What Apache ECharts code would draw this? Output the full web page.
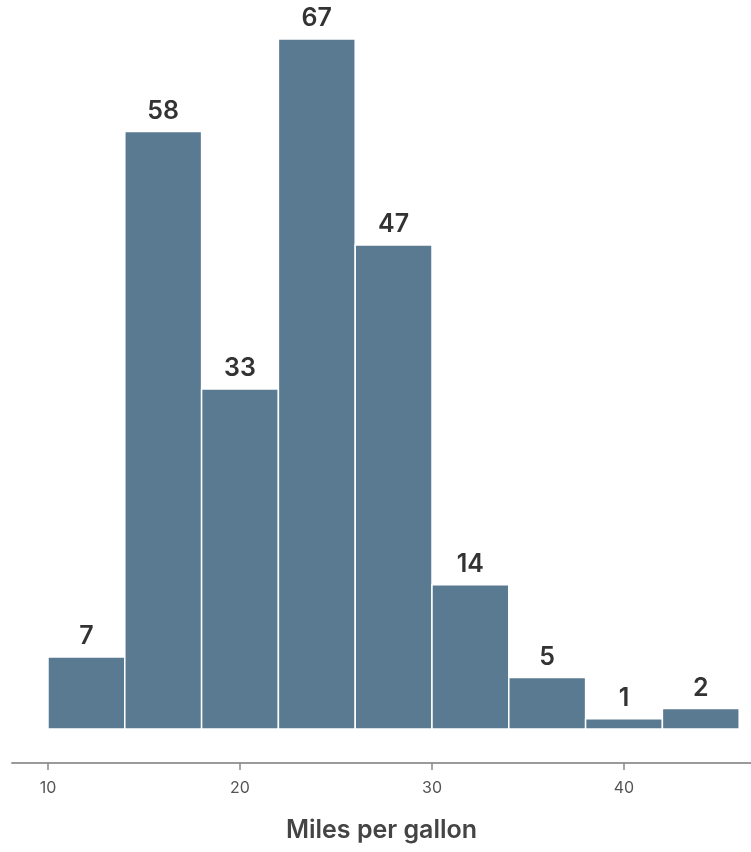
<!DOCTYPE html>
<html>
<head>
<meta charset="utf-8">
<script src="https://cdn.jsdelivr.net/npm/echarts@6/dist/echarts.min.js"></script>
<style>html,body{margin:0;padding:0;background:#fff}#c{width:751px;height:852px}</style>
</head>
<body>
<div id="c"></div>
<script>
var binStarts = [10, 14, 18, 22, 26, 30, 34, 38, 42];
var binEnds = [14, 18, 22, 26, 30, 34, 38, 42, 46];
var counts = [7, 58, 33, 67, 47, 14, 5, 1, 2];
var tickValues = [10, 20, 30, 40];
var axisTitle = 'Miles per gallon';

var data = binStarts.map(function (s, i) { return [s, binEnds[i], counts[i]]; });

var chart = echarts.init(document.getElementById('c'));
chart.setOption({
  animation: false,
  grid: { left: 12, right: 0, top: 8, bottom: 89 },
  xAxis: {
    type: 'value',
    min: 8.125,
    max: 46.615,
    axisLine: { show: true, onZero: false, lineStyle: { color: '#9a9a9a', width: 2 } },
    axisTick: { show: true, inside: false, length: 7, customValues: tickValues, lineStyle: { color: '#8a8a8a', width: 1.5 } },
    axisLabel: { customValues: tickValues, color: '#555', fontSize: 16, fontFamily: 'Inter', margin: 17 },
    splitLine: { show: false },
    name: axisTitle,
    nameLocation: 'middle',
    nameGap: 55,
    nameTextStyle: { fontSize: 25, fontWeight: 600, color: '#444', fontFamily: 'Inter' }
  },
  yAxis: {
    type: 'value', min: -3.3, max: 70, show: false, splitLine: { show: false }
  },
  series: [{
    type: 'custom',
    data: data,
    encode: { x: [0, 1], y: 2 },
    renderItem: function (params, api) {
      var p0 = api.coord([api.value(0), api.value(2)]);
      var p1 = api.coord([api.value(1), 0]);
      return {
        type: 'rect',
        shape: { x: p0[0], y: p0[1], width: p1[0] - p0[0], height: p1[1] - p0[1] },
        style: { fill: '#5a7a92', stroke: '#ffffff', lineWidth: 1.5 },
        textContent: {
          style: { text: String(api.value(2)), fill: '#333', fontSize: 25, fontWeight: 600, fontFamily: 'Inter' }
        },
        textConfig: { position: 'top', distance: 7 }
      };
    }
  }]
});
</script>
</body>
</html>
